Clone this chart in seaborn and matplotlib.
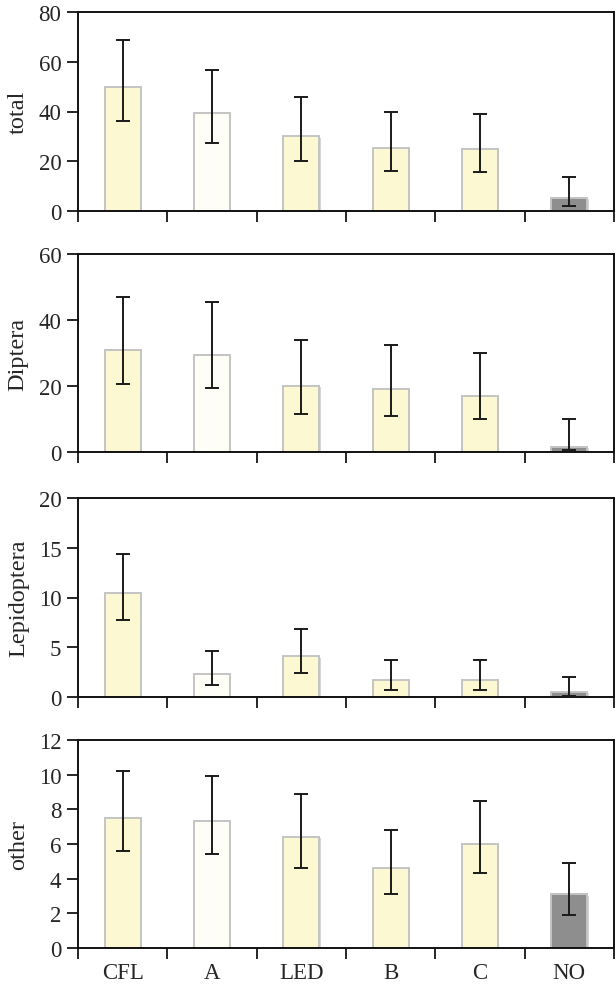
import numpy as np
import pandas as pd
import matplotlib
matplotlib.use("Agg")
import matplotlib.pyplot as plt
import matplotlib.patheffects as pe
from matplotlib.ticker import FixedLocator
import seaborn as sns

# lamp types
lamps = ["CFL", "A", "LED", "B", "C", "NO"]

# mean catch and error bar limits per panel
total = [50, 39.4, 30, 25.5, 25, 5.2]
total_lo = [36.1, 27.3, 20, 16, 15.8, 2]
total_hi = [68.7, 56.6, 46, 40, 39, 13.8]

diptera = [31, 29.5, 20, 19, 17, 1.5]
diptera_lo = [20.5, 19.5, 11.5, 11, 10, 0.5]
diptera_hi = [47, 45.5, 34, 32.5, 30, 10]

lepid = [10.5, 2.3, 4.1, 1.7, 1.7, 0.5]
lepid_lo = [7.7, 1.2, 2.4, 0.7, 0.7, 0.1]
lepid_hi = [14.4, 4.6, 6.8, 3.7, 3.7, 2]

other = [7.5, 7.3, 6.4, 4.6, 6.0, 3.1]
other_lo = [5.6, 5.4, 4.6, 3.1, 4.3, 1.9]
other_hi = [10.2, 9.9, 8.9, 6.8, 8.5, 4.9]

panels = [
    ("total", total, total_lo, total_hi, 80, 20),
    ("Diptera", diptera, diptera_lo, diptera_hi, 60, 20),
    ("Lepidoptera", lepid, lepid_lo, lepid_hi, 20, 5),
    ("other", other, other_lo, other_hi, 12, 2),
]

bar_colors = ["#fbf8d2", "#fefef7", "#fbf8d2", "#fbf8d2", "#fbf8d2", "#8e8e8e"]
palette = dict(zip(lamps, bar_colors))

sns.set_style("white")
plt.rcParams["font.family"] = ["Liberation Serif", "DejaVu Serif"]
plt.rcParams["font.size"] = 16

fig = plt.figure(figsize=(6.16, 9.87), dpi=100)
H = 987.0
boxes = [(13, 212), (255, 453), (499, 698), (741, 949)]
left, right = 78 / 616, 614 / 616

for i, (name, vals, lo, hi, ymax, step) in enumerate(panels):
    top, bot = boxes[i]
    ax = fig.add_axes([left, 1 - bot / H, right - left, (bot - top) / H])
    df = pd.DataFrame({"lamp": lamps, "val": vals})
    sns.barplot(data=df, x="lamp", y="val", hue="lamp", palette=palette,
                saturation=1, width=0.4, edgecolor="#c4c4c4", linewidth=1.4,
                legend=False, ax=ax, zorder=2)
    for p in ax.patches:
        p.set_path_effects([pe.SimplePatchShadow(offset=(1, -1), shadow_rgbFace="#bbbbbb", alpha=0.6),
                            pe.Normal()])
    x = np.arange(len(lamps))
    v = np.array(vals)
    ax.errorbar(x, v, yerr=[v - np.array(lo), np.array(hi) - v], fmt="none",
                ecolor="#1a1a1a", elinewidth=1.4, capsize=5, capthick=1.4, zorder=3)
    ax.set_xlim(-0.5, len(lamps) - 0.5)
    ax.set_ylim(0, ymax)
    ax.set_yticks(np.arange(0, ymax + 0.1, step))
    ax.set_ylabel(name, fontsize=17.5, labelpad=7)
    ax.set_xlabel("")
    ax.xaxis.set_minor_locator(FixedLocator(np.arange(-0.5, len(lamps), 1.0)))
    ax.tick_params(axis="x", which="major", length=0, pad=10, labelsize=16.5)
    ax.tick_params(axis="x", which="minor", length=8, width=1.4, direction="out", bottom=True)
    ax.tick_params(axis="y", length=8, width=1.4, direction="out", left=True, labelsize=16.5, pad=4)
    for s in ax.spines.values():
        s.set_visible(True)
        s.set_color("#111111")
        s.set_linewidth(1.4)
    if i < 3:
        ax.set_xticklabels([])

fig.savefig("out.png", dpi=100)
